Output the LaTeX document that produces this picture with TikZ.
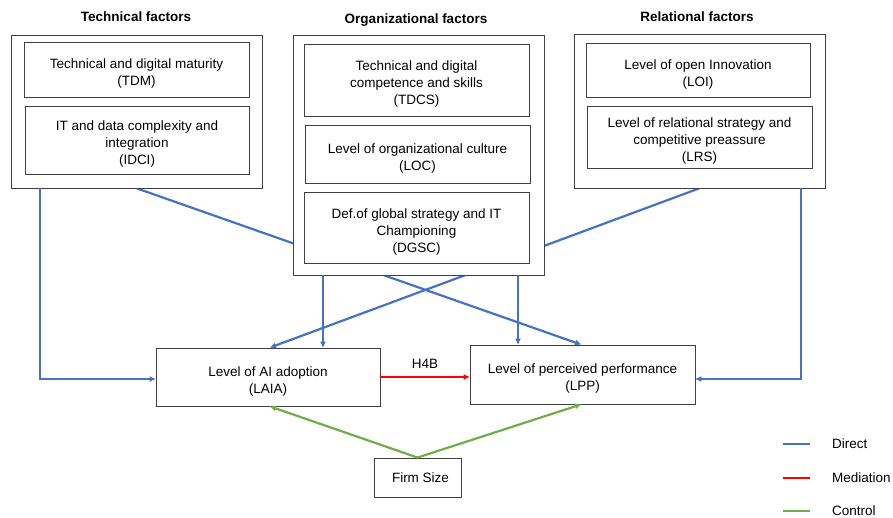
\documentclass[tikz,border=0pt]{standalone}
\usepackage{fontspec}
\setmainfont{Liberation Sans}
\usetikzlibrary{arrows.meta,backgrounds}
\definecolor{dirblue}{HTML}{4472C4}
\definecolor{medred}{HTML}{FF0000}
\definecolor{ctlgreen}{HTML}{70AD47}
\definecolor{boxline}{HTML}{404040}
\begin{document}
\begin{tikzpicture}[x=1pt,y=-1pt,
  every node/.style={font=\fontsize{13.5}{17}\selectfont},
  box/.style={draw=boxline,line width=0.9pt,fill=white,inner sep=0pt,anchor=center},
  boxtext/.style={align=center,inner sep=0pt,yshift=-4.5pt},
  title/.style={font=\fontsize{13.5}{17}\selectfont\bfseries},
  tip/.style={-{Triangle[length=6pt,width=5pt]}},
  direct/.style={draw=dirblue,line width=2.2pt},
  mediation/.style={draw=medred,line width=2.2pt},
  control/.style={draw=ctlgreen,line width=2.2pt}]
\useasboundingbox (0,0) rectangle (893,518);

% group frames and their factor boxes
\node[box,minimum width=251,minimum height=153] (tech) at (136.5,111.5) {};
\node[box,minimum width=225,minimum height=55,
  label={[boxtext]center:Technical and digital maturity\\(TDM)}] (tdm) at (136.5,69.5) {};
\node[box,minimum width=224,minimum height=68,
  label={[boxtext]center:IT and data complexity and\\integration\\(IDCI)}] (idci) at (137,140) {};

\node[box,minimum width=251,minimum height=240] (org) at (418.5,155) {};
\node[box,minimum width=225,minimum height=72,
  label={[boxtext]center:Technical and digital\\competence and skills\\(TDCS)}] (tdcs) at (416.5,80) {};
\node[box,minimum width=225,minimum height=58,
  label={[boxtext]center:Level of organizational culture\\(LOC)}] (loc) at (417.5,154) {};
\node[box,minimum width=225,minimum height=71,
  label={[boxtext]center:Def.of global strategy and IT\\Championing\\(DGSC)}] (dgsc) at (416.5,227.5) {};

\node[box,minimum width=251,minimum height=154] (rel) at (699.5,111) {};
\node[box,minimum width=224,minimum height=54,
  label={[boxtext]center:Level of open Innovation\\(LOI)}] (loi) at (698,70) {};
\node[box,minimum width=225,minimum height=62,
  label={[boxtext]center:Level of relational strategy and\\competitive preassure\\(LRS)}] (lrs) at (699.5,137) {};

% titles
\node[title] (ttech) at (136,17) {Technical factors};
\node[title] (torg) at (416,20) {Organizational factors};
\node[title] (trel) at (697,17) {Relational factors};

% outcome and control boxes
\node[box,minimum width=224,minimum height=58,
  label={[boxtext]center:Level of AI adoption\\(LAIA)}] (laia) at (268,377) {};
\node[box,minimum width=225,minimum height=59,
  label={[boxtext]center:Level of perceived performance\\(LPP)}] (lpp) at (582.5,374.5) {};
\node[box,minimum width=87,minimum height=39,
  label={[boxtext,yshift=4.5pt,xshift=3pt]center:Firm Size}] (firm) at (417.5,477.5) {};

% connector end positions
\coordinate (xa) at (40,0);
\coordinate (xb) at (137,0);
\coordinate (xc) at (581,0);
\coordinate (xd) at (323,0);
\coordinate (xe) at (518,0);
\coordinate (xf) at (699,0);
\coordinate (xg) at (270,0);
\coordinate (xh) at (801,0);
\coordinate (ya) at (0,379);

\begin{scope}[on background layer]
  \draw[direct,tip] (tech.south -| xb) -- (lpp.north -| xc);
  \draw[direct,tip] (rel.south -| xf) -- (laia.north -| xg);
\end{scope}

% direct effects
\draw[direct,tip] (tech.south -| xa) |- (laia.west |- ya);
\draw[direct,tip] (org.south -| xd) -- (laia.north -| xd);
\draw[direct,tip] (org.south -| xe) -- (lpp.north -| xe);
\draw[direct,tip] (rel.south -| xh) |- (lpp.east |- ya);

% mediation
\draw[mediation,tip] (laia.east) -- (laia.east -| lpp.west)
  node[midway,above=4pt,text=black] (h4b) {H4B};

% control
\draw[control,tip] (firm.north) -- (laia.south -| xg);
\draw[control,tip] (firm.north) -- (lpp.south -| xc);

% legend
\node[anchor=west,inner sep=0pt] (ldir) at (832,444) {Direct};
\node[anchor=west,inner sep=0pt] (lmed) at (832,478) {Mediation};
\node[anchor=west,inner sep=0pt] (lctl) at (832,511) {Control};
\coordinate (lx1) at (783,0);
\coordinate (lx2) at (810,0);
\draw[direct] (ldir.west -| lx1) -- (ldir.west -| lx2);
\draw[mediation] (lmed.west -| lx1) -- (lmed.west -| lx2);
\draw[control] (lctl.west -| lx1) -- (lctl.west -| lx2);
\end{tikzpicture}
\end{document}
